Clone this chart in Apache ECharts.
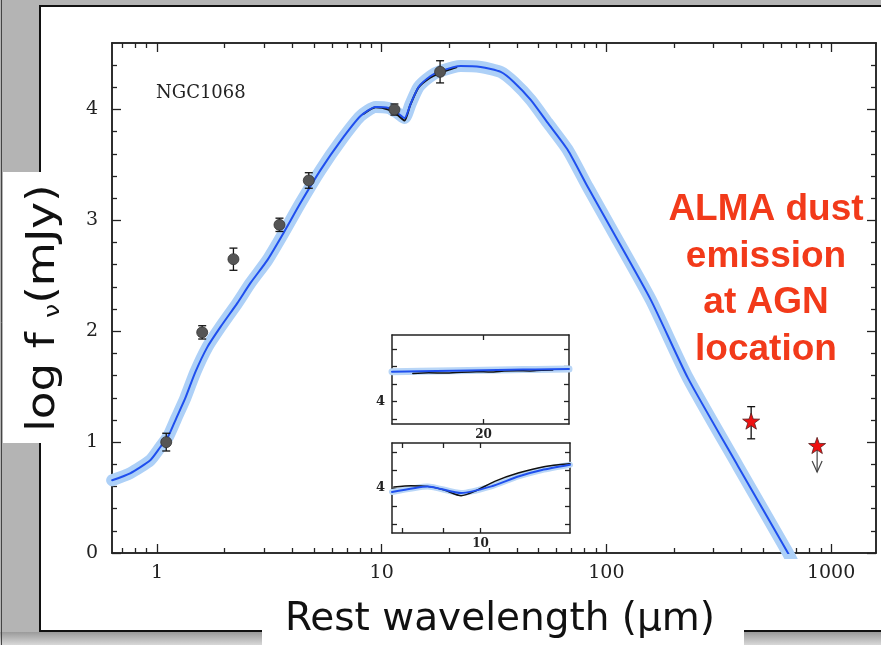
<!DOCTYPE html>
<html>
<head>
<meta charset="utf-8">
<script src="https://cdn.jsdelivr.net/npm/echarts@6/dist/echarts.min.js"></script>
<style>
html, body { margin: 0; padding: 0; background: #b4b4b4; }
#main { width: 881px; height: 645px; }
</style>
</head>
<body>
<div id="main"></div>
<script>
// model SED, log f_nu (mJy) against rest wavelength (um)
var modelWave = [0.632, 0.760, 0.934, 1.034, 1.123, 1.219, 1.337, 1.482, 1.676, 1.915, 2.279, 2.605, 3.101, 3.655,
  4.351, 5.342, 6.558, 8.054, 9.39, 10.73, 11.78, 12.65, 13.45, 14.6, 16.52, 18.3, 22.47, 27.59, 33.88, 38.71,
  46.08, 54.87, 67.36, 82.69, 104.7, 157.9, 230.8, 385.5, 644, 720];
var modelFlux = [0.656, 0.719, 0.837, 0.954, 1.053, 1.215, 1.396, 1.631, 1.857, 2.037, 2.254, 2.434, 2.642, 2.885,
  3.156, 3.453, 3.715, 3.941, 4.023, 4.014, 3.968, 3.923, 4.05, 4.203, 4.302, 4.347, 4.393, 4.384, 4.339, 4.249,
  4.087, 3.879, 3.635, 3.301, 2.931, 2.281, 1.577, 0.783, -0.003, -0.2];

// mid-IR spectrum
var irsWave = [8.3, 9.4, 10.7, 11.8, 12.65, 13.4, 14.6, 16.5, 18.3, 20.0, 21.5];
var irsFlux = [3.96, 4.02, 4.00, 3.95, 3.90, 4.04, 4.20, 4.29, 4.33, 4.36, 4.38];

// photometry
var photWave = [1.10, 1.59, 2.19, 3.51, 4.74, 11.4, 18.2];
var photFlux = [1.00, 1.99, 2.65, 2.96, 3.36, 4.00, 4.34];
var photErr = [0.08, 0.06, 0.10, 0.06, 0.07, 0.05, 0.10];

// ALMA points
var almaWave = [441, 867];
var almaFlux = [1.19, 0.97];
var almaLow = [1.03, 0.73];
var almaHigh = [1.32, 0.97];

// insets
var in1BlueWave = [14.5, 16, 18, 20, 22, 24, 27];
var in1BlueFlux = [4.170, 4.172, 4.175, 4.178, 4.181, 4.183, 4.185];
var in1IrsWave = [15.6, 16.5, 17.5, 18.5, 19.5, 20.5, 21.5, 22.5, 23.5, 24.5, 25.5];
var in1IrsFlux = [4.160, 4.163, 4.162, 4.167, 4.170, 4.168, 4.173, 4.175, 4.174, 4.178, 4.179];
var in2BlueWave = [7.77, 8.6, 9.46, 10.31, 11.13, 11.91, 12.9];
var in2BlueFlux = [3.978, 4.009, 3.972, 4.009, 4.064, 4.100, 4.129];
var in2IrsWave = [7.81, 8.2, 8.6, 9.0, 9.46, 9.83, 10.41, 11.13, 12.02, 12.9];
var in2IrsFlux = [4.005, 4.012, 4.009, 3.990, 3.957, 3.981, 4.037, 4.083, 4.120, 4.135];

// ticks
var xMajor = [1, 10, 100, 1000];
var xMinor = [0.7, 0.8, 0.9, 2, 3, 4, 5, 6, 7, 8, 9, 20, 30, 40, 50, 60, 70, 80, 90,
  200, 300, 400, 500, 600, 700, 800, 900];
var yMajor = [0, 1, 2, 3, 4];
var yMinor = [0.2, 0.4, 0.6, 0.8, 1.2, 1.4, 1.6, 1.8, 2.2, 2.4, 2.6, 2.8, 3.2, 3.4, 3.6, 3.8, 4.2, 4.4];
var in1XTicks = [20];
var in1YTicks = [3.9, 4.0, 4.1, 4.2, 4.3];
var in2XTicks = [8, 9, 10];
var in2YTicks = [3.8, 3.9, 4.0, 4.1, 4.2];

var ink = '#222';
var serif = 'DejaVu Serif';

function zip(a, b) {
  return a.map(function (v, i) { return [v, b[i]]; });
}

function axis(type, grid, pos, min, max, ticks, len, labels, lblSize, margin) {
  return {
    type: type, gridIndex: grid, position: pos, min: min, max: max,
    axisLine: { show: true, onZero: false, lineStyle: { color: ink, width: 1.5 } },
    axisTick: { show: true, inside: true, length: len, customValues: ticks, lineStyle: { color: ink, width: 1.3 } },
    axisLabel: labels ? {
      show: true, customValues: labels, margin: margin,
      fontFamily: serif, fontSize: lblSize, color: ink, fontWeight: lblSize < 15 ? 'bold' : 'normal',
      formatter: function (v) { return String(Math.round(v)); }
    } : { show: false },
    splitLine: { show: false }
  };
}

var xAxes = [
  axis('log', 0, 'bottom', 0.631, 1585, xMajor, 9, xMajor, 19, 11),
  axis('log', 0, 'bottom', 0.631, 1585, xMinor, 5, null),
  axis('log', 0, 'top', 0.631, 1585, xMajor, 9, null),
  axis('log', 0, 'top', 0.631, 1585, xMinor, 5, null),
  axis('log', 1, 'bottom', 14.5, 27, in1XTicks, 5, in1XTicks, 12, 5),
  axis('log', 1, 'top', 14.5, 27, in1XTicks, 5, null),
  axis('log', 2, 'bottom', 7.77, 12.9, in2XTicks, 5, [10], 12, 5),
  axis('log', 2, 'top', 7.77, 12.9, in2XTicks, 5, null)
];
var yAxes = [
  axis('value', 0, 'left', 0, 4.6, yMajor, 9, yMajor, 19, 14),
  axis('value', 0, 'left', 0, 4.6, yMinor, 5, null),
  axis('value', 0, 'right', 0, 4.6, yMajor, 9, null),
  axis('value', 0, 'right', 0, 4.6, yMinor, 5, null),
  axis('value', 1, 'left', 3.87, 4.38, in1YTicks, 5, [4], 13, 7),
  axis('value', 1, 'right', 3.87, 4.38, in1YTicks, 5, null),
  axis('value', 2, 'left', 3.75, 4.25, in2YTicks, 5, [4], 13, 7),
  axis('value', 2, 'right', 3.75, 4.25, in2YTicks, 5, null)
];

function errorBar(params, api) {
  var x = api.value(0);
  var p1 = api.coord([x, api.value(1)]);
  var p2 = api.coord([x, api.value(2)]);
  var w = 4;
  var st = { stroke: '#111', lineWidth: 1.3 };
  return {
    type: 'group', children: [
      { type: 'line', shape: { x1: p1[0], y1: p1[1], x2: p2[0], y2: p2[1] }, style: st },
      { type: 'line', shape: { x1: p1[0] - w, y1: p1[1], x2: p1[0] + w, y2: p1[1] }, style: st },
      { type: 'line', shape: { x1: p2[0] - w, y1: p2[1], x2: p2[0] + w, y2: p2[1] }, style: st }
    ]
  };
}

function limitArrow(params, api) {
  var x = api.value(0);
  var p1 = api.coord([x, api.value(2)]);
  var p2 = api.coord([x, api.value(1)]);
  var st = { stroke: '#444', lineWidth: 1.2, fill: null };
  return {
    type: 'group', children: [
      { type: 'line', shape: { x1: p1[0], y1: p1[1], x2: p2[0], y2: p2[1] }, style: st },
      { type: 'polyline', shape: { points: [[p2[0] - 5, p2[1] - 11], [p2[0], p2[1]], [p2[0] + 5, p2[1] - 11]] }, style: st }
    ]
  };
}

var photBars = photWave.map(function (w, i) { return [w, photFlux[i] - photErr[i], photFlux[i] + photErr[i]]; });
var almaBars = [[almaWave[0], almaLow[0], almaHigh[0]]];
var almaLimit = [[almaWave[1], almaLow[1], almaHigh[1]]];

var star = 'path://M0,-10L2.35,-3.24L9.51,-3.09L3.8,1.24L5.88,8.09L0,4.2L-5.88,8.09L-3.8,1.24L-9.51,-3.09L-2.35,-3.24Z';

function line(xi, yi, data, color, width, z) {
  return {
    type: 'line', xAxisIndex: xi, yAxisIndex: yi, data: data, showSymbol: false, symbol: 'none',
    smooth: 0.2, lineStyle: { color: color, width: width, cap: 'round', join: 'round' }, z: z
  };
}

var chart = echarts.init(document.getElementById('main'));
chart.setOption({
  animation: false,
  grid: [
    { left: 112, top: 43, width: 764, height: 510 },
    { left: 392, top: 335, width: 177, height: 89, show: true, backgroundColor: '#fff', borderWidth: 0 },
    { left: 392, top: 443, width: 178, height: 90, show: true, backgroundColor: '#fff', borderWidth: 0 }
  ],
  xAxis: xAxes,
  yAxis: yAxes,
  graphic: [
    { type: 'rect', z: -20, shape: { x: 40, y: 6, width: 900, height: 625 }, style: { fill: '#fff', stroke: '#111', lineWidth: 2 } },
    { type: 'rect', z: -20, shape: { x: 0, y: 632, width: 881, height: 13 },
      style: { fill: new echarts.graphic.LinearGradient(0, 0, 0, 1, [{ offset: 0, color: '#9a9a9a' }, { offset: 1, color: '#d8d8d8' }]) } },
    { type: 'line', z: -20, shape: { x1: 1.5, y1: 0, x2: 1.5, y2: 645 }, style: { stroke: '#444', lineWidth: 1 } },
    { type: 'rect', z: -19, shape: { x: 3, y: 172, width: 42, height: 271 }, style: { fill: '#fff' } },
    { type: 'rect', z: -19, shape: { x: 262, y: 600, width: 482, height: 45 }, style: { fill: '#fff' } },
    {
      type: 'text', z: 50, x: 44, y: 308, rotation: Math.PI / 2, scaleX: 1.16,
      style: {
        text: '{a|log f }{s|ν}{a|(mJy)}', align: 'center', verticalAlign: 'middle',
        rich: {
          a: { fontFamily: 'DejaVu Sans', fontSize: 39, fill: '#111' },
          s: { fontFamily: 'DejaVu Sans', fontSize: 22, fill: '#111', padding: [18, 0, 0, 0] }
        }
      }
    },
    {
      type: 'text', z: 50, x: 500, y: 620,
      style: { text: 'Rest wavelength (μm)', fontFamily: 'DejaVu Sans', fontSize: 39, fill: '#111', align: 'center', verticalAlign: 'middle' }
    },
    {
      type: 'text', z: 50, x: 766, y: 280,
      style: {
        text: 'ALMA dust\nemission\nat AGN\nlocation', fontFamily: 'Liberation Sans', fontWeight: 'bold',
        fontSize: 37, lineHeight: 46.5, fill: '#f23a1a', align: 'center', verticalAlign: 'middle'
      }
    },
    {
      type: 'text', z: 50, x: 156, y: 93,
      style: { text: 'NGC1068', fontFamily: serif, fontSize: 18, fill: ink, align: 'left', verticalAlign: 'middle' }
    }
  ],
  series: [
    line(0, 0, zip(modelWave, modelFlux), '#add0f7', 12, 2),
    line(0, 0, zip(irsWave, irsFlux), '#111', 2, 3),
    line(0, 0, zip(modelWave, modelFlux), '#1f4fee', 2, 4),
    { type: 'custom', xAxisIndex: 0, yAxisIndex: 0, renderItem: errorBar, data: photBars, z: 5 },
    {
      type: 'scatter', xAxisIndex: 0, yAxisIndex: 0, data: zip(photWave, photFlux), symbol: 'circle', symbolSize: 11,
      itemStyle: { color: '#555', borderColor: '#333', borderWidth: 0.8, opacity: 1 }, z: 6
    },
    { type: 'custom', xAxisIndex: 0, yAxisIndex: 0, renderItem: errorBar, data: almaBars, z: 5 },
    { type: 'custom', xAxisIndex: 0, yAxisIndex: 0, renderItem: limitArrow, data: almaLimit, z: 5 },
    {
      type: 'scatter', xAxisIndex: 0, yAxisIndex: 0, data: zip(almaWave, almaFlux), symbol: star, symbolSize: 17,
      symbolKeepAspect: true, itemStyle: { color: '#ee1111', borderColor: '#552020', borderWidth: 0.8, opacity: 1 }, z: 6
    },
    line(4, 4, zip(in1BlueWave, in1BlueFlux), '#b9d6f7', 7, 2),
    line(4, 4, zip(in1IrsWave, in1IrsFlux), '#111', 1.5, 3),
    line(4, 4, zip(in1BlueWave, in1BlueFlux), '#1f4fee', 2, 4),
    line(6, 6, zip(in2BlueWave, in2BlueFlux), '#b9d6f7', 6, 2),
    line(6, 6, zip(in2IrsWave, in2IrsFlux), '#111', 1.5, 3),
    line(6, 6, zip(in2BlueWave, in2BlueFlux), '#1f4fee', 2, 4)
  ]
});
</script>
</body>
</html>
